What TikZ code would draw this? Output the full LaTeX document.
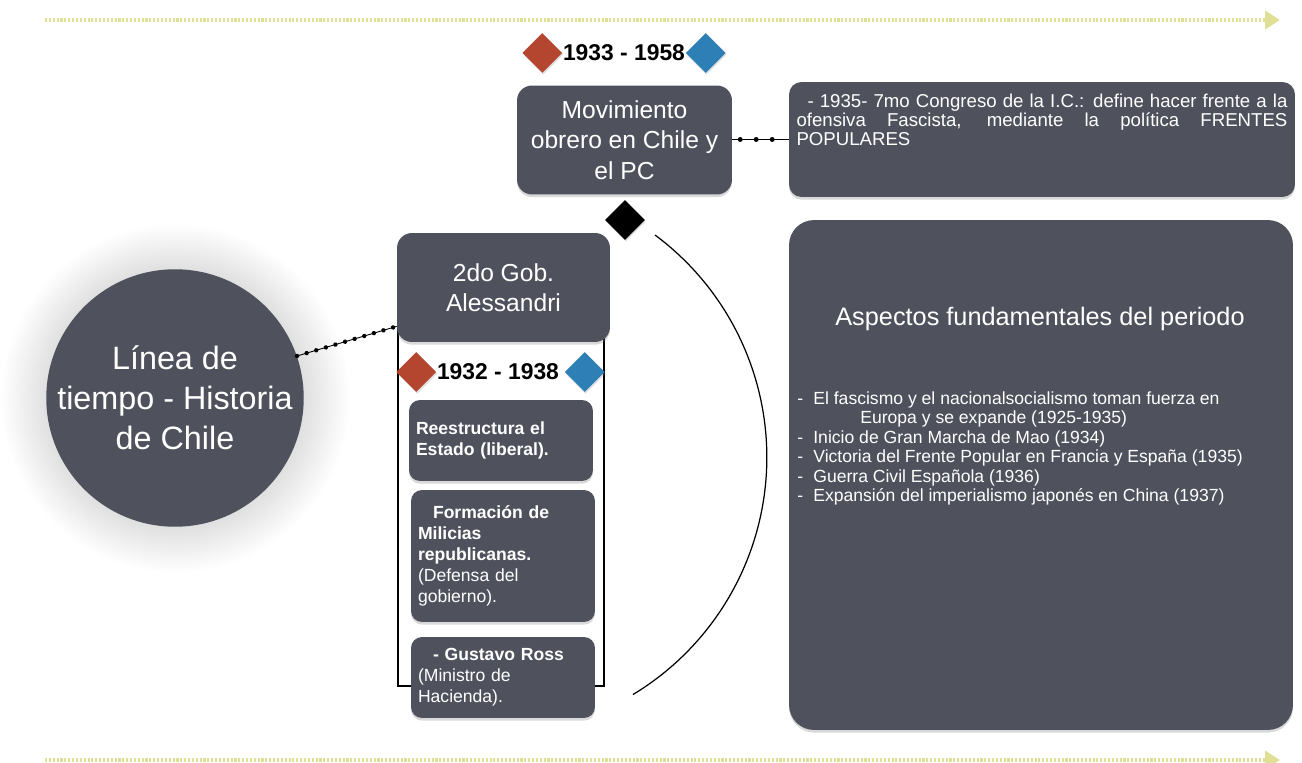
\documentclass[tikz,border=0pt]{standalone}
\usepackage{fontspec}
\setmainfont{Liberation Sans}
\usepackage{tikz}
\usetikzlibrary{positioning, shapes.geometric, shadows, arrows.meta, calc, decorations.markings}
\definecolor{grisfondo}{RGB}{79,82,93}
\definecolor{rojo}{RGB}{180,69,46}
\definecolor{azul}{RGB}{46,127,181}
\definecolor{amarillo}{RGB}{224,223,150}
\pgfdeclareradialshading{halo}{\pgfpoint{0bp}{0bp}}{color(0bp)=(black!13); color(18bp)=(black!13); color(25bp)=(white); color(50bp)=(white)}
\newcommand{\guion}{\makebox[0.32cm][l]{-}}

\begin{document}
\begin{tikzpicture}[x=0.02cm,y=-0.02cm,
    caja/.style={rectangle,rounded corners=0.3cm,fill=grisfondo,text=white,inner sep=0pt,
        drop shadow={shadow xshift=0pt,shadow yshift=-1.5pt,opacity=0.3}},
    evento/.style={caja,rounded corners=0.22cm,text width=3.4cm,minimum width=3.68cm,
        align=left,font=\fontsize{10}{12}\selectfont},
    rombo/.style={diamond,minimum size=0.8cm,inner sep=0pt,
        drop shadow={shadow xshift=0.5pt,shadow yshift=-1pt,opacity=0.25}},
    fecha/.style={inner sep=0pt,font=\fontsize{13}{15}\selectfont\bfseries},
    puntos/.style n args={4}{black,line width=0.5pt,
        postaction={decorate,decoration={markings,
            mark=between positions #2 and #3 step #1 with {\fill[black] (0pt,0pt) circle[radius=#4];}}}},
    tiempo/.style={draw=amarillo,line width=2.5pt,dash pattern=on 1.2pt off 1pt,
        -{Triangle[length=0.3cm,width=0.36cm,fill=amarillo]}}]
\useasboundingbox (0,0) rectangle (1302,763);

% lineas de tiempo
\draw[tiempo] (45,20) -- (1280,20);
\draw[tiempo] (45,760) -- (1280,760);

% circulo central
\coordinate (centro) at (175,398);
\shade[shading=halo] (centro) circle (175);
\node[circle,fill=grisfondo,minimum size=5.12cm,inner sep=0pt,text=white,align=center,
    font=\fontsize{18.4}{22.8}\selectfont] (linea) at (centro) {Línea de\\tiempo - Historia\\de Chile};

% marco del gobierno
\draw[line width=0.7pt] (398,330) rectangle (604,686);

% cajas
\node[caja,minimum width=4.3cm,minimum height=2.18cm,align=center,
    font=\fontsize{14}{17.2}\selectfont] (mov) at (624.5,140) {Movimiento\\obrero en Chile y\\el PC};
\node[caja,rounded corners=0.25cm,minimum width=10.12cm,minimum height=2.3cm] (ic) at (1042,139.5)
    {\parbox[c][1.82cm][t]{9.82cm}{\fontsize{10.6}{10.8}\selectfont\hspace*{0.22cm}- 1935- 7mo Congreso de la I.C.: define hacer frente a la\linebreak
    ofensiva Fascista, mediante la política FRENTES\linebreak POPULARES}};
\node[caja,rounded corners=0.5cm,minimum width=10.08cm,minimum height=10.2cm] (aspectos) at (1041,475) {};
\node[text=white,font=\fontsize{14.4}{17}\selectfont] (titulo) at (1040,319) {Aspectos fundamentales del periodo};
\node[anchor=north west,inner sep=0pt,text=white,align=left,font=\fontsize{10}{11.1}\selectfont] (lista) at (797,391)
    {\guion El fascismo y el nacionalsocialismo toman fuerza en\\
    \hspace*{1.26cm}Europa y se expande (1925-1935)\\
    \guion Inicio de Gran Marcha de Mao (1934)\\
    \guion Victoria del Frente Popular en Francia y España (1935)\\
    \guion Guerra Civil Española (1936)\\
    \guion Expansión del imperialismo japonés en China (1937)};

\node[caja,minimum width=4.26cm,minimum height=2.18cm,align=center,
    font=\fontsize{14}{17.2}\selectfont] (gob) at (503.5,287.5) {2do Gob.\\Alessandri};
\node[evento,minimum height=1.62cm] (estado) at (501,440.5) {\bfseries Reestructura el\\Estado (liberal).};
\node[evento,minimum height=2.64cm] (milicias) at (503,556)
    {\bfseries\hspace*{0.3cm}Formación de\\Milicias\\republicanas.\\\mdseries(Defensa del\\gobierno).};
\node[evento,minimum height=1.62cm] (ross) at (503,677.5)
    {\bfseries\hspace*{0.3cm}- Gustavo Ross\\\mdseries(Ministro de\\Hacienda).};

% fechas
\node[fecha] (f1) at (624,53) {1933 - 1958};
\node[rombo,fill=rojo,left=0pt of f1] (r1) {};
\node[rombo,fill=azul,right=0pt of f1] (a1) {};
\node[fecha] (f2) at (498,372) {1932 - 1938};
\node[rombo,fill=rojo,left=0pt of f2] (r2) {};
\node[rombo,fill=azul,right=0.1cm of f2] (a2) {};
\node[rombo,fill=black] (nexo) at (625,220) {};

% conectores
\draw[puntos={5.7pt}{0}{1}{1.25pt}] (linea.19) -- (gob.200);
\draw[puntos={9.1pt}{0.14}{0.8}{1.4pt}] (mov.east |- ic.west) -- (ic.west);
\draw[line width=0.7pt] (655,235) arc[start angle=-53.4,end angle=58.9,radius=277];
\end{tikzpicture}
\end{document}
